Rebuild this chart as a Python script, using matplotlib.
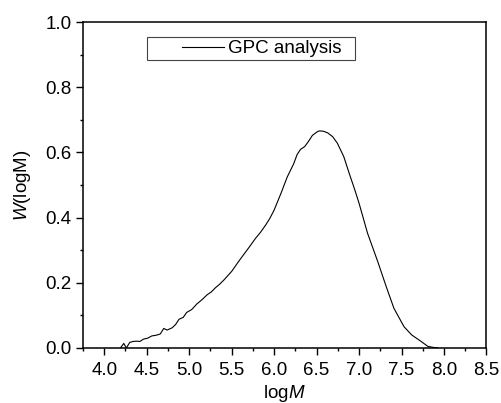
import matplotlib
matplotlib.use('Agg')
import matplotlib.pyplot as plt
from matplotlib.legend_handler import HandlerLine2D

plt.rcParams['font.family'] = ['Liberation Sans', 'DejaVu Sans']
plt.rcParams['mathtext.fontset'] = 'custom'
plt.rcParams['mathtext.rm'] = 'Liberation Sans'
plt.rcParams['mathtext.it'] = 'Liberation Sans:italic'

# GPC trace
log_m = [4.19, 4.23, 4.26, 4.30, 4.34, 4.38, 4.42, 4.46, 4.51, 4.56, 4.61, 4.66,
         4.70, 4.74, 4.80, 4.84, 4.88, 4.93, 4.97, 5.03, 5.09, 5.15, 5.21, 5.26,
         5.31, 5.36, 5.41, 5.50, 5.60, 5.70, 5.78, 5.84, 5.90, 5.95, 6.00, 6.08,
         6.155, 6.23, 6.27, 6.31, 6.36, 6.40, 6.45, 6.50, 6.53, 6.58, 6.63, 6.69,
         6.745, 6.82, 6.89, 6.95, 7.00, 7.10, 7.22, 7.32, 7.41, 7.53, 7.62, 7.72,
         7.81, 7.87, 7.93]
w_log_m = [0.000, 0.014, 0.000, 0.017, 0.020, 0.021, 0.020, 0.027, 0.030, 0.037, 0.039, 0.043,
           0.060, 0.055, 0.062, 0.072, 0.088, 0.094, 0.109, 0.118, 0.135, 0.148, 0.163, 0.172,
           0.185, 0.196, 0.209, 0.235, 0.272, 0.307, 0.336, 0.355, 0.377, 0.398, 0.423, 0.474,
           0.525, 0.565, 0.593, 0.609, 0.618, 0.632, 0.652, 0.662, 0.666, 0.665, 0.660, 0.648,
           0.628, 0.587, 0.531, 0.485, 0.444, 0.352, 0.265, 0.188, 0.122, 0.065, 0.040, 0.022,
           0.005, 0.002, 0.000]

fig = plt.figure(figsize=(5.01, 4.03), dpi=100)
ax = fig.add_axes([0.1657, 0.1365, 0.8053, 0.8089])

ax.plot(log_m, w_log_m, color='black', lw=0.8, label='GPC analysis  ')

ax.set_xlim(3.75, 8.5)
ax.set_ylim(0, 1.0)
ax.set_xticks([4.0, 4.5, 5.0, 5.5, 6.0, 6.5, 7.0, 7.5, 8.0, 8.5])
ax.set_xticks([3.75 + 0.5 * i for i in range(10)], minor=True)
ax.set_yticks([0.0, 0.2, 0.4, 0.6, 0.8, 1.0])
ax.set_yticks([0.1, 0.3, 0.5, 0.7, 0.9], minor=True)
ax.tick_params(which='both', direction='out', labelsize=13.5, width=1.0)
ax.tick_params(which='major', length=4.8)
ax.tick_params(which='minor', length=2.4)
ax.tick_params(axis='x', pad=5)
ax.tick_params(axis='y', pad=3.5)
for s in ax.spines.values():
    s.set_linewidth(1.1)

ax.set_xlabel(r'log$M$', fontsize=13.5, labelpad=3)
ax.set_ylabel(r'$W$(logM)', fontsize=13.5, labelpad=9)

leg = ax.legend(loc='upper left', bbox_to_anchor=(0.159, 0.953), borderaxespad=0,
                fontsize=13.5, borderpad=0.15, handlelength=3.95, handletextpad=0.2,
                fancybox=False, framealpha=1,
                handler_map={matplotlib.lines.Line2D: HandlerLine2D(xpad=1.7)})
leg.get_frame().set_edgecolor('#444444')
leg.get_frame().set_linewidth(0.8)

fig.savefig('out.png', dpi=100)
